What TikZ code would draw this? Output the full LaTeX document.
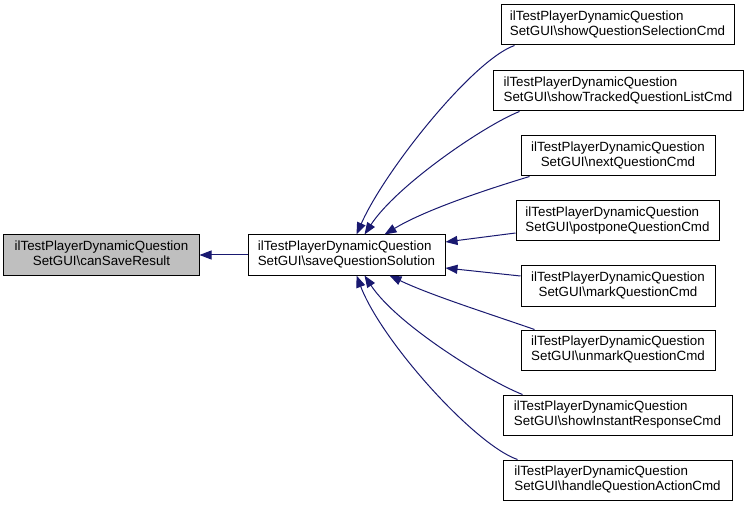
\documentclass[tikz,border=0pt]{standalone}
\usepackage{fontspec}
\setmainfont{Liberation Sans}
\usetikzlibrary{arrows.meta,calc}
\definecolor{edgeblue}{HTML}{191970}
\definecolor{boxgray}{HTML}{BFBFBF}
\newcommand\twolines[2]{\begin{tabular}{@{}l@{}}#1\\\multicolumn{1}{@{}c@{}}{#2}\end{tabular}}
\begin{document}
\begin{tikzpicture}[x=1bp,y=-1bp,
  box/.style={draw=black,line width=1bp,fill=white,inner sep=0pt,minimum height=40bp,
    font=\fontsize{13.4}{15}\selectfont,text=black},
  edge/.style={draw=edgeblue,line width=1bp,-{Triangle[length=12bp,width=9bp]},fill=none}]
\useasboundingbox (0,0) rectangle (748,509);
\node[box,fill=boxgray,minimum width=195bp] (L) at (101.5,255) {\twolines{ilTestPlayerDynamicQuestion}{SetGUI\textbackslash canSaveResult}};
\node[box,minimum width=197bp] (M) at (346.5,255) {\twolines{ilTestPlayerDynamicQuestion}{SetGUI\textbackslash saveQuestionSolution}};
\node[box,minimum width=233bp] (b1) at (617.5,25) {\twolines{ilTestPlayerDynamicQuestion}{SetGUI\textbackslash showQuestionSelectionCmd}};
\node[box,minimum width=250bp] (b2) at (618,91) {\twolines{ilTestPlayerDynamicQuestion}{SetGUI\textbackslash showTrackedQuestionListCmd}};
\node[box,minimum width=194bp] (b3) at (618,156) {\twolines{ilTestPlayerDynamicQuestion}{SetGUI\textbackslash nextQuestionCmd}};
\node[box,minimum width=203bp] (b4) at (617.5,221) {\twolines{ilTestPlayerDynamicQuestion}{SetGUI\textbackslash postponeQuestionCmd}};
\node[box,minimum width=194bp] (b5) at (618,286) {\twolines{ilTestPlayerDynamicQuestion}{SetGUI\textbackslash markQuestionCmd}};
\node[box,minimum width=194bp] (b6) at (618,350) {\twolines{ilTestPlayerDynamicQuestion}{SetGUI\textbackslash unmarkQuestionCmd}};
\node[box,minimum width=229bp] (b7) at (617.5,415) {\twolines{ilTestPlayerDynamicQuestion}{SetGUI\textbackslash showInstantResponseCmd}};
\node[box,minimum width=229bp] (b8) at (617.5,480) {\twolines{ilTestPlayerDynamicQuestion}{SetGUI\textbackslash handleQuestionActionCmd}};
% edges
\draw[edge] (M.west) -- (L.east);
\draw[edge] ($(b1.south west)+(14,0)$) .. controls (473,60) and (385,170) .. ($(M.north west)+(109,0)$);
\draw[edge] ($(b2.south west)+(27,0)$) .. controls (485,125) and (397,185) .. ($(M.north west)+(117,0)$);
\draw[edge] ($(b3.south west)+(9,0)$) .. controls (485,190) and (425,210) .. ($(M.north west)+(137,0)$);
\draw[edge] ($(b4.west)+(0,12)$) -- ($(M.east)+(0,-13)$);
\draw[edge] ($(b5.west)+(0,-10)$) -- ($(M.east)+(0,13)$);
\draw[edge] ($(b6.north west)+(14,0)$) .. controls (490,314) and (430,295) .. ($(M.south west)+(142,0)$);
\draw[edge] ($(b7.north west)+(20,0)$) .. controls (488,381) and (397,325) .. ($(M.south west)+(117,0)$);
\draw[edge] ($(b8.north west)+(15,0)$) .. controls (475,445) and (382,342) .. ($(M.south west)+(109,0)$);
\end{tikzpicture}
\end{document}
